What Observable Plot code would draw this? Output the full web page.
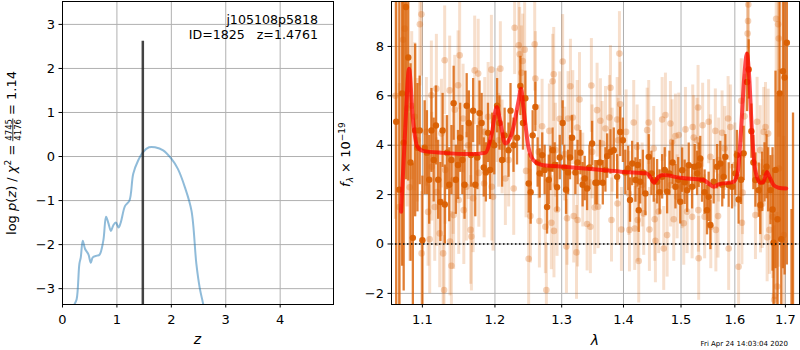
<!DOCTYPE html>
<html><head><meta charset="utf-8">
<script src="https://cdn.jsdelivr.net/npm/d3@7"></script>
<script src="https://cdn.jsdelivr.net/npm/@observablehq/plot@0.6"></script>
<style>
body{margin:0;background:#fff;}
#fig{position:relative;width:800px;height:350px;font-family:"DejaVu Sans",sans-serif;background:#fff;}
#fig svg{position:absolute;top:0;overflow:visible;}
</style></head><body><div id="fig"></div>
<script>
// ---------- left panel data: log p(z) ----------
const zVals = [0.20,0.214,0.26,0.31,0.336,0.372,0.415,0.476,0.52,0.556,0.63,0.68,0.75,0.80,0.84,0.89,0.93,0.98,1.03,1.07,1.15,1.23,1.30,1.39,1.48,1.59,1.70,1.85,2.00,2.12,2.25,2.37,2.46,2.52,2.59,2.62];
const logpVals = [-3.6,-3.38,-3.24,-2.44,-2.29,-1.91,-2.10,-2.22,-2.41,-2.29,-2.25,-2.23,-1.91,-1.37,-1.50,-1.69,-1.57,-1.50,-1.61,-1.50,-1.12,-1.00,-0.39,-0.09,0.10,0.21,0.21,0.14,-0.05,-0.28,-0.70,-1.23,-2.44,-2.97,-3.38,-3.6];
const zBest = [1.4761];
const zBestTop = 2.62;
const zTicks = [0,1,2,3,4];
const pTicks = [-3,-2,-1,0,1,2,3];
const zDomain = [0, 4.98];
const pDomain = [-3.36, 3.52];
const objName = "j105108p5818";
const objId = "ID=1825\u00a0\u00a0\u00a0z=1.4761";
const chi2Num = "4745", chi2Den = "4176", chi2Ratio = "1.14";

// ---------- right panel data: spectrum ----------
const modelLam = [1.0723,1.0773,1.0826,1.0873,1.0934,1.1008,1.128,1.1648,1.1859,1.1954,1.2026,1.2074,1.2147,1.2244,1.2342,1.2381,1.2416,1.2491,1.2566,1.2719,1.3028,1.3561,1.4002,1.44,1.4454,1.4523,1.46,1.4687,1.4984,1.541,1.5503,1.5596,1.569,1.5975,1.6052,1.6116,1.6181,1.6233,1.6278,1.633,1.6396,1.6494,1.656,1.6627,1.668,1.676,1.686,1.7017];
const modelFlux = [1.31,4.47,7.10,5.15,3.94,3.77,3.69,3.64,3.69,4.47,5.55,5.01,4.07,4.47,5.75,6.29,5.55,3.94,3.40,3.19,3.13,3.02,2.92,2.86,2.72,2.48,2.72,2.79,2.68,2.59,2.45,2.32,2.41,2.52,2.86,4.47,6.77,7.71,6.77,4.61,2.99,2.48,2.52,2.92,2.72,2.39,2.28,2.25];

// [wavelength, flux, error]
const darkPts = [
[1.066,4.95,9.5],[1.070,2.2,8],[1.0735,6.1,7],[1.0756,4.1,6],[1.0785,9.6,7],[1.0815,7.55,5],[1.0845,3.3,4],[1.0875,0.25,3],[1.0905,4.6,3.5],[1.0935,3.9,2.6],[1.0965,4.6,2.2],[1.100,0.15,2.6],
[1.103,3.9,1.9],[1.106,3.7,1.7],[1.109,2.6,1.8],[1.112,4.6,1.7],[1.115,3.4,1.7],[1.118,4.8,1.6],[1.121,2.6,1.6],[1.124,1.7,1.6],[1.127,4.6,1.5],[1.130,1.6,1.6],[1.133,3.7,1.5],[1.136,2.4,1.5],[1.139,3.4,1.4],[1.142,5.7,1.5],[1.145,2.6,1.4],[1.148,3.2,1.4],[1.151,4.3,1.4],[1.154,3.4,1.4],[1.157,2.4,1.4],[1.160,5.6,1.3],[1.163,4.9,1.3],[1.166,3.6,1.3],[1.169,5.4,1.3],[1.172,2.4,1.3],[1.175,3.5,1.3],[1.178,5.3,1.3],[1.181,4.9,1.2],[1.184,3.1,1.2],[1.187,2.9,1.2],[1.190,4.5,1.2],[1.193,3.0,1.2],[1.196,4.1,1.2],[1.199,4.0,1.2],
[1.2031,5.6,1.1],[1.2065,4.9,1.1],[1.2103,3.4,1.1],[1.2140,4.4,1.1],[1.2197,3.8,1.1],[1.2226,5.4,1.1],[1.2270,4.0,1.1],[1.2322,4.3,1.1],[1.2372,6.4,1.2],[1.2410,4.9,1.1],[1.2446,5.9,1.1],[1.2495,2.45,1.2],[1.2525,2.1,1.3],[1.2555,4.4,1.0],[1.2596,5.55,1.0],[1.2630,3.3,1.0],[1.2661,2.86,1.0],[1.2700,3.6,0.9],[1.2737,3.0,1.0],[1.2774,1.5,1.1],[1.2800,2.6,1.0],[1.2825,3.06,0.9],[1.2860,3.8,0.9],[1.2891,3.2,0.9],[1.2928,2.3,1.0],[1.2970,3.5,0.9],[1.3015,4.9,0.9],[1.3040,3.1,0.9],[1.3068,2.2,1.0],[1.3100,2.9,0.9],[1.3130,3.5,0.9],[1.3163,4.3,0.9],[1.3215,2.9,0.9],[1.3250,3.3,0.9],[1.3295,3.7,0.9],[1.3330,2.4,0.9],[1.3364,2.65,0.9],[1.3402,2.25,0.9],[1.3440,3.1,0.9],[1.3483,4.07,0.9],[1.3536,2.48,0.9],
[1.3564,2.48,0.9],[1.3610,3.3,0.9],[1.3657,2.48,0.9],[1.3700,3.0,0.9],[1.3728,3.56,0.9],[1.3783,3.73,0.9],[1.3838,3.8,0.9],[1.3894,2.72,0.9],[1.3945,4.54,1.0],[1.3990,4.2,0.9],[1.4030,2.9,0.9],[1.4079,3.06,0.9],[1.4110,1.78,0.9],[1.4146,3.26,0.9],[1.4202,2.59,0.9],[1.4240,3.2,0.9],[1.4258,1.37,0.9],[1.4283,2.52,0.9],[1.4330,2.9,0.9],[1.4373,2.05,0.9],[1.4430,3.53,0.9],[1.4477,2.86,0.9],[1.4517,2.59,0.9],[1.4576,2.52,0.9],[1.4620,2.1,0.9],[1.4664,2.72,0.9],[1.4710,3.0,0.9],[1.4752,2.12,0.9],[1.4793,2.86,0.9],[1.4850,3.3,0.9],[1.4900,2.32,0.9],[1.4950,2.6,0.9],[1.4986,1.71,0.9],[1.5020,2.99,0.9],[1.5065,2.5,0.9],[1.5110,2.18,0.9],[1.5139,3.19,0.9],[1.5201,2.32,0.9],[1.5248,3.13,0.9],[1.5292,2.86,0.9],[1.5321,3.19,0.9],[1.5350,3.46,0.9],[1.5382,2.59,0.9],[1.5430,2.1,0.9],[1.5475,1.37,1.0],[1.5505,1.91,1.0],[1.5538,0.77,1.0],[1.5599,2.52,0.9],[1.5663,3.13,0.9],[1.5723,3.26,0.9],[1.5760,2.4,0.9],[1.5787,2.72,0.9],[1.5819,3.53,0.9],[1.5882,2.39,0.9],[1.5947,2.32,0.9],[1.6010,2.86,0.9],[1.6040,3.6,1.0],[1.6072,1.8,1.0],[1.6120,2.6,1.0],[1.6170,3.67,1.1],[1.6236,6.56,1.2],[1.6268,7.07,1.2],[1.6321,4.57,1.1],[1.6360,3.3,1.1],[1.6400,2.59,1.1],[1.6465,2.18,1.1],[1.6495,1.58,1.2],[1.6533,2.52,1.2],[1.6580,2.9,1.2],[1.6620,3.13,1.3],[1.6652,2.6,1.3],[1.6698,2.18,1.4],[1.6740,1.4,2.5],[1.6760,0.05,3],[1.6800,3.0,4],[1.6840,1.0,5],[1.6882,6.1,6],[1.6916,0.19,6],[1.6950,7.0,8],[1.6983,6.74,8],[1.7030,8.15,9],[1.7125,-8,9.4],[1.7156,-4,9.3]
];
const lightPts = [
[1.0650,6.0,5],[1.0700,1.5,5],[1.0748,8.27,4],[1.0769,8.72,4],[1.0800,5.5,4],[1.0834,2.3,3],[1.0860,5.6,3],[1.0899,5.15,3],[1.0934,4.2,2.5],[1.0967,8.9,2.5],[1.0987,9.3,2.5],[1.0990,-0.38,2.5],
[1.1053,4.54,2.2],[1.1075,1.3,2.2],[1.1097,0.19,2.2],[1.1119,6.02,2.2],[1.1125,3.13,2.2],[1.1164,1.5,2.2],[1.1186,6.29,2.2],[1.1190,2.1,2.2],[1.1231,0.43,2.2],[1.1254,4.47,2.2],[1.1277,-0.38,2.2],[1.1290,-1.86,2.2],[1.1298,7.44,2.2],[1.1305,3.0,2.2],[1.1366,6.22,2.2],[1.1370,0.1,2.2],[1.1389,-0.88,2.2],[1.1413,2.59,2.2],[1.1420,1.17,2.2],[1.1435,5.44,2.2],[1.1481,6.43,2.2],[1.1490,1.78,2.2],[1.1503,7.64,2.2],[1.1550,5.08,2.2],[1.1560,1.37,2.2],[1.1596,2.32,2.2],[1.1620,4.0,2.2],[1.1656,0.57,2.2],[1.1666,0.3,2.2],[1.1690,1.85,2.2],[1.1712,7.03,2.2],[1.1761,6.9,2.2],[1.1770,2.88,2.2],[1.1845,2.45,2.2],[1.1854,4.54,2.2],[1.1902,5.15,2.2],[1.1949,7.06,2.2],[1.1955,2.32,2.2],[1.1973,1.91,2.2],
[1.2031,5.2,1.9],[1.2054,4.2,1.9],[1.2078,7.1,1.9],[1.2103,3.93,1.9],[1.2151,2.65,1.9],[1.2199,3.4,1.9],[1.2273,2.25,1.9],[1.2287,8.76,1.9],[1.2347,8.05,1.9],[1.2361,7.68,1.9],[1.2387,6.93,1.9],[1.2406,7.41,1.9],[1.2435,7.87,1.9],[1.2456,2.96,1.9],[1.2495,-0.6,1.9],[1.2521,1.13,1.9],[1.2586,8.09,1.9],[1.2596,6.7,1.9],[1.2646,3.73,1.9],[1.2657,0.93,1.9],[1.2698,4.77,1.9],[1.2748,0.7,1.9],[1.2763,-1.86,1.9],[1.2809,4.58,1.9],[1.2840,0.86,1.9],[1.2860,6.59,1.9],[1.2876,6.87,1.9],[1.2880,0.53,1.9],[1.2902,3.8,1.9],[1.2928,1.4,1.9],[1.2969,5.07,1.9],[1.3015,7.39,1.9],[1.3047,3.64,1.9],[1.3074,-0.1,1.9],[1.3084,1.04,1.9],[1.3100,5.08,1.9],[1.3137,6.39,1.9],[1.3174,5.12,1.9],[1.3189,1.13,1.9],[1.3233,-0.34,1.9],[1.3244,4.72,1.9],[1.3250,0.97,1.9],[1.3281,5.85,1.9],[1.3333,2.59,1.9],[1.3402,0.81,1.9],[1.3455,0.7,1.9],[1.3471,6.42,1.9],[1.3483,3.73,1.9],[1.3525,1.48,1.9],[1.3564,5.42,1.9],
[1.3580,1.51,1.7],[1.3618,4.99,1.7],[1.3647,4.07,1.7],[1.3701,4.68,1.7],[1.3766,5.12,1.7],[1.3783,6.33,1.7],[1.3800,0.97,1.7],[1.3811,3.8,1.7],[1.3894,5.04,1.7],[1.3900,1.64,1.7],[1.3910,4.2,1.7],[1.3932,7.71,1.7],[1.3945,5.66,1.7],[1.3965,0.59,1.7],[1.4044,4.54,1.7],[1.4089,2.05,1.7],[1.4100,0.57,1.7],[1.4173,4.92,1.7],[1.4190,0.63,1.7],[1.4231,3.93,1.7],[1.4240,0.97,1.7],[1.4258,-0.69,1.7],[1.4317,2.39,1.7],[1.4344,1.24,1.7],[1.4403,4.61,1.7],[1.4430,4.92,1.7],[1.4442,0.59,1.7],[1.4517,3.87,1.7],[1.4534,1.0,1.7],[1.4546,0.13,1.7],[1.4604,1.31,1.7],[1.4664,5.04,1.7],[1.4692,-0.18,1.7],[1.4722,5.22,1.7],[1.4752,0.36,1.7],[1.4811,4.88,1.7],[1.4815,2.39,1.7],[1.4841,4.14,1.7],[1.4870,1.0,1.7],[1.4900,4.37,1.7],[1.4930,1.91,1.7],[1.4959,4.41,1.7],[1.5020,2.32,1.7],[1.5049,0.84,1.7],[1.5080,4.64,1.7],[1.5110,1.31,1.7],[1.5201,1.1,1.7],[1.5212,4.74,1.7],[1.5230,4.31,1.7],[1.5292,4.2,1.7],[1.5310,5.53,1.7],[1.5315,1.37,1.7],[1.5321,-0.58,1.7],[1.5394,4.81,1.7],[1.5431,1.1,1.7],[1.5505,4.95,1.7],[1.5538,3.53,1.7],[1.5545,0.7,1.7],[1.5630,4.58,1.7],[1.5640,0.57,1.7],[1.5681,1.13,1.7],[1.5692,3.4,1.7],[1.5757,4.5,1.7],[1.5806,3.87,1.7],[1.5871,5.08,1.7],[1.5882,-0.18,1.7],[1.5915,4.74,1.7],[1.6000,3.2,1.7],[1.6072,-0.92,1.7],[1.6124,5.8,1.7],[1.6137,0.86,1.7],[1.6149,2.08,1.7],[1.6187,5.17,1.7],[1.6247,8.52,1.8],[1.6255,9.03,1.8],[1.6260,9.7,1.8],[1.6400,1.17,1.8],[1.6433,4.95,1.8],[1.6495,3.8,1.8],[1.6500,1.44,1.8],[1.6533,1.62,1.8],[1.6564,4.54,1.8],[1.6599,4.74,1.8],[1.6632,0.27,1.8],[1.6652,4.47,1.8],[1.6678,0.57,1.8],[1.6744,1.1,2.5],[1.6773,-2.26,3],[1.6785,-2.1,3],[1.6813,9.12,3],[1.6833,-1.72,3],[1.6853,8.9,4],[1.6865,8.32,4],[1.6870,3.06,4],[1.6967,0.36,4]
];
const lamTicks = [1.1,1.2,1.3,1.4,1.5,1.6,1.7];
const fTicks = [-2,0,2,4,6,8];
const lamDomain = [1.06, 1.729];
const fDomain = [-2.45, 9.82];
const stamp = "Fri Apr 24 14:03:04 2020";

// ---------- styling ----------
const FONT = "DejaVu Sans";
const GRID = "#b0b0b0";
const ORANGE = "#d95f02";

const pz = zVals.map((z, i) => ({z, p: logpVals[i]}));
const model = modelLam.map((lam, i) => ({lam, f: modelFlux[i]}));
const toObj = r => ({lam: r[0], f: r[1], e: r[2]});
const dark = darkPts.map(toObj);
const light = lightPts.map(toObj);

const baseStyle = {fontFamily: FONT, fontSize: "13px", background: "transparent", overflow: "visible", color: "black"};
const fig = document.getElementById("fig");

const left = Plot.plot({
  width: 335, height: 350,
  marginLeft: 62, marginRight: 2, marginTop: 1, marginBottom: 46,
  style: baseStyle,
  x: {domain: zDomain, label: null},
  y: {domain: pDomain, label: null},
  marks: [
    Plot.gridX({ticks: zTicks, stroke: GRID, strokeOpacity: 1, strokeWidth: 1}),
    Plot.gridY({ticks: pTicks, stroke: GRID, strokeOpacity: 1, strokeWidth: 1}),
    Plot.line(pz, {x: "z", y: "p", stroke: "#1f77b4", strokeOpacity: 0.5, strokeWidth: 2, curve: "catmull-rom", clip: true}),
    Plot.ruleX(zBest, {x: d => d, y1: () => pDomain[0], y2: () => zBestTop, stroke: "#222", strokeOpacity: 0.85, strokeWidth: 2.5}),
    Plot.frame({stroke: "black", strokeWidth: 1}),
    Plot.axisX({ticks: zTicks, tickSize: 3.5, tickPadding: 7, tickFormat: d3.format("d"), label: null}),
    Plot.axisY({ticks: pTicks, tickSize: 3.5, tickPadding: 4, tickFormat: d3.format("d"), label: null})
  ]
});
left.style.left = "0px";
fig.appendChild(left);

const right = Plot.plot({
  width: 465, height: 350,
  marginLeft: 56, marginRight: 1, marginTop: 1, marginBottom: 46,
  style: baseStyle,
  x: {type: "log", domain: lamDomain, label: null},
  y: {domain: fDomain, label: null},
  marks: [
    Plot.gridX({ticks: lamTicks, stroke: GRID, strokeOpacity: 1, strokeWidth: 1}),
    Plot.gridY({ticks: fTicks, stroke: GRID, strokeOpacity: 1, strokeWidth: 1}),
    Plot.ruleX(light, {x: "lam", y1: d => d.f - d.e, y2: d => d.f + d.e, stroke: ORANGE, strokeOpacity: 0.2, strokeWidth: 3, clip: true}),
    Plot.dot(light, {x: "lam", y: "f", r: 3.3, fill: ORANGE, fillOpacity: 0.28, stroke: "none", clip: true}),
    Plot.ruleX(dark, {x: "lam", y1: d => d.f - d.e, y2: d => d.f + d.e, stroke: ORANGE, strokeOpacity: 0.8, strokeWidth: 2.3, clip: true}),
    Plot.dot(dark, {x: "lam", y: "f", r: 3.2, fill: ORANGE, fillOpacity: 0.95, stroke: "none", clip: true}),
    Plot.line(model, {x: "lam", y: "f", stroke: "#ff0000", strokeOpacity: 0.7, strokeWidth: 4, curve: "monotone-x", clip: true}),
    Plot.ruleY([0], {stroke: "black", strokeWidth: 1.5, strokeDasharray: "1.5,2.5"}),
    Plot.frame({stroke: "black", strokeWidth: 1}),
    Plot.axisX({ticks: lamTicks, tickSize: 3.5, tickPadding: 7, tickFormat: d3.format(".1f"), label: null}),
    Plot.axisY({ticks: fTicks, tickSize: 3.5, tickPadding: 4, tickFormat: d3.format("d"), label: null})
  ]
});
right.style.left = "335px";
fig.appendChild(right);

// ---------- annotations ----------
const L = d3.select(left), R = d3.select(right);
const txt = (sel, x, y, s, opts = {}) => sel.append("text").attr("x", x).attr("y", y)
  .attr("font-family", FONT).attr("font-size", opts.size || 13)
  .attr("text-anchor", opts.anchor || "start").attr("font-style", opts.italic ? "italic" : "normal")
  .attr("fill", "black").text(s);

txt(L, 318, 24, objName, {anchor: "end", size: 12.6});
txt(L, 318, 38.5, objId, {anchor: "end", size: 12.6});
txt(L, 197.5, 344, "z", {anchor: "middle", size: 14, italic: true});
txt(R, 260, 345, "λ", {anchor: "middle", size: 14, italic: true});
txt(R, 453, 345.5, stamp, {anchor: "end", size: 7});

function rotated(sel, cx, cy, build) {
  const g = sel.append("g").attr("transform", `translate(${cx},${cy}) rotate(-90)`)
    .attr("text-anchor", "start");
  const inner = g.append("g").attr("text-anchor", "start");
  build(inner);
  const bb = inner.node().getBBox();
  inner.attr("transform", `translate(${-bb.x - bb.width / 2},0)`);
}
const mkText = (g, size) => g.append("text").attr("font-family", FONT).attr("font-size", size)
  .attr("text-anchor", "start").attr("fill", "black");

// left y label: log p(z) / χ² = 4745/4176 = 1.14
rotated(L, 16.2, 153, g => {
  const t = mkText(g, 13).attr("x", 0).attr("y", 0);
  t.append("tspan").text("log\u00a0");
  t.append("tspan").attr("font-style", "italic").text("p");
  t.append("tspan").text("(");
  t.append("tspan").attr("font-style", "italic").text("z");
  t.append("tspan").text(")\u00a0/\u00a0");
  t.append("tspan").attr("font-style", "italic").text("χ");
  t.append("tspan").attr("font-size", 9).attr("dy", -5).text("2");
  t.append("tspan").attr("dy", 5).text("\u00a0=");
  const tb = t.node().getBBox();
  const w = tb.x + tb.width + 4;
  const num = mkText(g, 8.5).attr("x", w).attr("y", -4.6).text(chi2Num);
  const fw = num.node().getBBox().width;
  mkText(g, 8.5).attr("x", w).attr("y", 4.6).text(chi2Den);
  g.append("line").attr("x1", w - 0.5).attr("x2", w + fw + 0.5).attr("y1", -3.4).attr("y2", -3.4)
    .attr("stroke", "black").attr("stroke-width", 0.8);
  mkText(g, 13).attr("x", w + fw + 4).attr("y", 0).text("=\u00a0" + chi2Ratio);
});

// right y label: f_λ × 10^−19
rotated(R, 15, 154.5, g => {
  const t = mkText(g, 13).attr("x", 0).attr("y", 0);
  t.append("tspan").attr("font-style", "italic").text("f");
  t.append("tspan").attr("font-style", "italic").attr("font-size", 9).attr("dy", 3).text("λ");
  t.append("tspan").attr("dy", -3).text("\u00a0×\u00a010");
  t.append("tspan").attr("font-size", 9).attr("dy", -5.5).text("−19");
});
</script></body></html>
